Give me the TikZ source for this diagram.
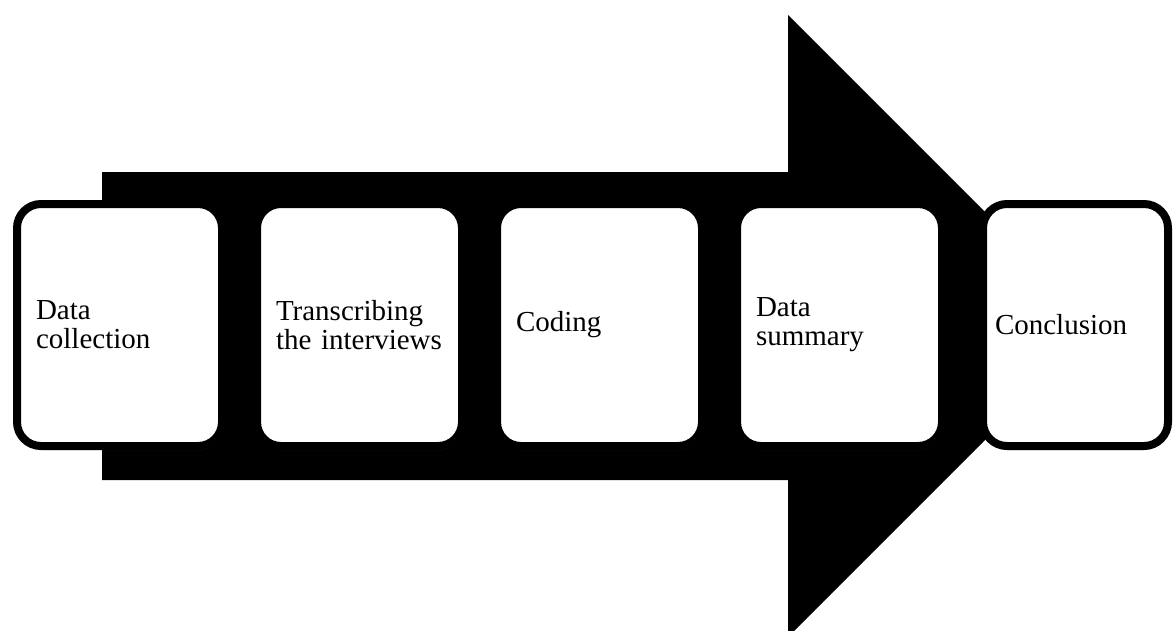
\documentclass[tikz,border=0pt]{standalone}
\usepackage{fontspec}
\setmainfont{Liberation Serif}
\usetikzlibrary{positioning,shadows}

\begin{document}
\begin{tikzpicture}[x=1pt, y=-1pt, node distance=240pt, on grid,
  stage/.style={draw, line width=8pt, fill=white, rounded corners=24pt,
    minimum height=242pt, text width=167pt, inner xsep=19pt, align=left,
    font=\fontsize{29}{29}\selectfont,
    drop shadow={shadow xshift=1pt, shadow yshift=-4pt, opacity=0.3}}]
  \useasboundingbox (0,0) rectangle (1174,630);

  % the big arrow behind the stages
  \fill (102,172) -- (788,172) -- (788,15) -- (1099,326) -- (788,637)
        -- (788,480) -- (102,480) -- cycle;

  \node [stage] (collect) at (119.5,325) {Data\\collection};
  \node [stage] (transcr) [right=of collect] {Transcribing\\the interviews};
  \node [stage] (coding) [right=of transcr] {Coding};
  \node [stage] (summary) [right=of coding] {Data\\summary};
  \node [stage, text width=161pt, inner xsep=12pt] (concl) [right=236pt of summary] {Conclusion};
\end{tikzpicture}
\end{document}
